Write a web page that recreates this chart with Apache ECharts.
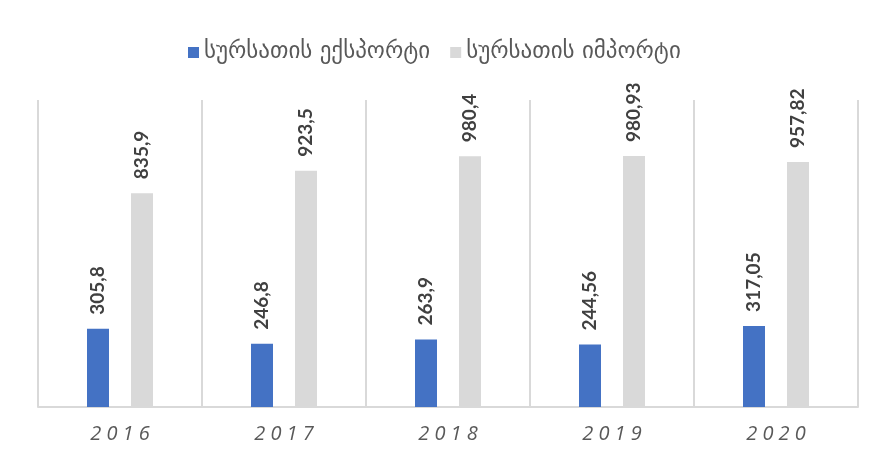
<!DOCTYPE html>
<html lang="ka">
<head>
    <meta charset="UTF-8">
    <title>სურსათის ექსპორტი და იმპორტი</title>
    <script src="https://cdn.jsdelivr.net/npm/echarts@6/dist/echarts.min.js"></script>
    <style>
        body {
            margin: 0;
            background: #fff;
        }
        #chart {
            width: 877px;
            height: 461px;
        }
    </style>
</head>
<body>
    <div id="chart"></div>

    <script>
        // 数据
        const years = ['2016', '2017', '2018', '2019', '2020'];
        const exportValues = [305.8, 246.8, 263.9, 244.56, 317.05];
        const importValues = [835.9, 923.5, 980.4, 980.93, 957.82];
        const seriesNames = ['სურსათის ექსპორტი', 'სურსათის იმპორტი'];

        const myChart = echarts.init(document.getElementById('chart'));

        // 小数点用逗号
        const fmt = p => String(p.value).replace('.', ',');

        const labelStyle = {
            show: true,
            position: 'top',
            rotate: 90,
            align: 'left',
            verticalAlign: 'middle',
            distance: 14,
            formatter: fmt,
            fontFamily: 'Lato, "DejaVu Sans", sans-serif',
            fontWeight: 'bold',
            fontSize: 19,
            color: '#404040'
        };

        const option = {
            animation: false,
            legend: {
                top: 36,
                left: 183,
                itemWidth: 11,
                itemHeight: 11,
                itemGap: 20,
                icon: 'rect',
                textStyle: {
                    fontFamily: '"DejaVu Sans", sans-serif',
                    fontSize: 23,
                    color: '#595959'
                },
                data: seriesNames
            },
            grid: {
                left: 38,
                right: 19,
                top: 100,
                bottom: 54
            },
            xAxis: {
                type: 'category',
                data: years,
                axisLine: { lineStyle: { color: '#d9d9d9', width: 2 } },
                axisTick: { show: false },
                splitLine: { show: true, lineStyle: { color: '#d9d9d9', width: 2 } },
                axisLabel: {
                    margin: 17,
                    fontFamily: '"Open Sans", sans-serif',
                    fontStyle: 'italic',
                    fontSize: 20,
                    color: '#595959',
                    formatter: v => v.split('').join(' ')
                }
            },
            yAxis: {
                type: 'value',
                min: 0,
                max: 1200,
                show: false,
                splitLine: { show: false }
            },
            series: [
                {
                    name: seriesNames[0],
                    type: 'bar',
                    data: exportValues,
                    barWidth: 22,
                    barGap: '100%',
                    itemStyle: { color: '#4472c4' },
                    label: labelStyle
                },
                {
                    name: seriesNames[1],
                    type: 'bar',
                    data: importValues,
                    barWidth: 22,
                    itemStyle: { color: '#d9d9d9' },
                    label: labelStyle
                }
            ]
        };
        myChart.setOption(option);
    </script>
</body>
</html>
